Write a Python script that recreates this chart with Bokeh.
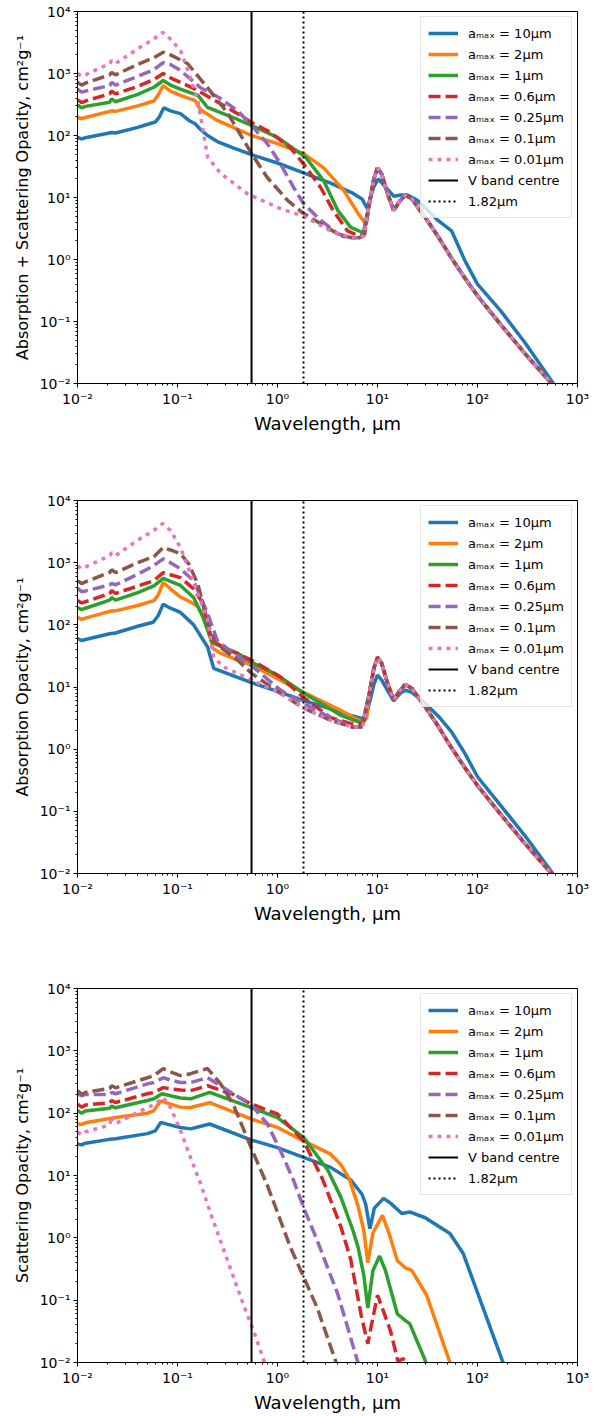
from bokeh.plotting import figure
from bokeh.layouts import column
from bokeh.models import Range1d, FixedTicker, CustomJSTickFormatter, Legend, LegendItem
from bokeh.embed import file_html
from bokeh.resources import INLINE

# ---------------- data (wavelength in micron, opacity in cm^2/g) ----------------
series_labels = ["aₘₐₓ = 10μm", "aₘₐₓ = 2μm", "aₘₐₓ = 1μm", "aₘₐₓ = 0.6μm",
                 "aₘₐₓ = 0.25μm", "aₘₐₓ = 0.1μm", "aₘₐₓ = 0.01μm"]
v_band_centre = 0.55
marker_wavelength = 1.82
x_limits = [1e-2, 1e3]
y_limits = [1e-2, 1e4]
y_labels = ["Absorption + Scattering Opacity, cm²g⁻¹",
            "Absorption Opacity, cm²g⁻¹",
            "Scattering Opacity, cm²g⁻¹"]

# shared silicate feature + far-IR tail of the small-grain curves (panels 1 and 2)
feat_wl = [8.3, 9.2, 10.0, 11.0, 12.5, 14.5, 16.5, 19, 22, 30, 40, 55, 75, 100, 170, 300, 600]
feat_k = [8.0, 20, 30, 24, 12, 6.2, 8.5, 11, 9.5, 4.8, 2.4, 1.05, 0.5, 0.26, 0.09, 0.03, 0.0085]

# Panel 1: absorption + scattering
ext_wl_10 = [0.01, 0.011, 0.012, 0.022, 0.024, 0.04, 0.06, 0.066, 0.073, 0.085, 0.107, 0.13, 0.15, 0.17, 0.2,
             0.25, 0.36, 0.55, 1.0, 1.82, 3.4, 5.5, 7.0, 7.9, 9.2, 10.2, 11.5, 14.5, 17, 20, 25, 40, 55, 75, 100,
             170, 300, 600]
ext_k_10 = [93, 88, 92, 112, 110, 135, 165, 200, 280, 250, 225, 175, 155, 125, 100, 80, 63, 49, 36, 25, 17, 12,
            9.5, 6.7, 15, 20, 16, 10.5, 11, 11, 9, 4.3, 2.9, 0.95, 0.4, 0.15, 0.045, 0.009]
ext_wl_2 = [0.01, 0.011, 0.012, 0.022, 0.024, 0.04, 0.058, 0.064, 0.072, 0.085, 0.107, 0.15, 0.17, 0.25, 0.36,
            0.55, 1.0, 1.82, 2.9, 4.6, 6.4, 7.6]
ext_k_2 = [195, 188, 195, 250, 245, 300, 360, 450, 640, 520, 445, 365, 260, 175, 135, 100, 74, 51, 30, 13, 5.5, 3.8]
ext_wl_1 = [0.01, 0.011, 0.012, 0.021, 0.022, 0.024, 0.04, 0.058, 0.072, 0.085, 0.107, 0.16, 0.2, 0.36, 0.55,
            1.0, 1.9, 2.9, 4.0, 5.4, 7.2]
ext_k_1 = [310, 280, 295, 345, 390, 350, 460, 600, 770, 650, 560, 443, 283, 195, 145, 93, 45, 18.6, 6.2, 3.3, 2.7]
ext_wl_06 = [0.01, 0.011, 0.012, 0.021, 0.022, 0.024, 0.04, 0.058, 0.072, 0.085, 0.107, 0.15, 0.21, 0.4, 0.55,
             0.85, 1.35, 1.82, 2.7, 3.6, 5.0, 6.3, 7.4]
ext_k_06 = [380, 340, 360, 470, 520, 470, 620, 800, 1000, 850, 720, 560, 410, 225, 162, 112, 63, 35, 14.5, 6.2,
            2.9, 2.45, 2.5]
ext_wl_025 = [0.01, 0.011, 0.012, 0.021, 0.022, 0.024, 0.04, 0.058, 0.072, 0.085, 0.107, 0.17, 0.27, 0.4, 0.55,
              0.79, 1.07, 1.45, 1.82, 2.7, 4.0, 5.7, 7.2]
ext_k_025 = [560, 500, 520, 640, 720, 650, 900, 1150, 1500, 1400, 1120, 590, 395, 250, 145, 74, 35, 14.5, 8, 4.3,
             2.6, 2.2, 2.3]
ext_wl_01 = [0.01, 0.011, 0.012, 0.021, 0.022, 0.024, 0.04, 0.058, 0.072, 0.085, 0.126, 0.2, 0.32, 0.55, 0.79,
             1.26, 1.82, 2.7, 4.3, 6.4, 7.3]
ext_k_01 = [720, 650, 700, 950, 1040, 950, 1400, 1800, 2200, 2000, 1450, 590, 225, 51, 21, 9, 5.5, 3.8, 2.4, 2.2, 2.4]
ext_wl_001 = [0.01, 0.011, 0.012, 0.021, 0.022, 0.024, 0.04, 0.058, 0.071, 0.085, 0.107, 0.125, 0.16, 0.2, 0.27,
              0.5, 1.07, 1.82, 3.4, 5.7, 7.3]
ext_k_001 = [1000, 900, 950, 1450, 1620, 1450, 2500, 3600, 4600, 3600, 2350, 1200, 365, 45, 24.5, 11.5, 6.6, 5,
             2.9, 2.2, 2.4]

# Panel 2: absorption
abs_wl_10 = [0.01, 0.011, 0.012, 0.021, 0.024, 0.04, 0.057, 0.064, 0.072, 0.085, 0.107, 0.13, 0.145, 0.2, 0.23,
             0.55, 1.82, 5.4, 7.1, 7.9, 9.2, 10.0, 11.0, 12.5, 14.5, 17, 19, 22, 30, 42, 55, 75, 100, 170, 300, 600]
abs_k_10 = [60, 56, 58, 72, 74, 95, 110, 140, 215, 185, 158, 118, 100, 44, 20, 11.8, 6.1, 3.5, 3.1, 4.0, 11, 15.5,
            13, 9, 6, 8, 8.9, 8.2, 5.5, 3.2, 1.9, 0.85, 0.36, 0.125, 0.04, 0.0088]
abs_wl_2 = [0.01, 0.011, 0.012, 0.021, 0.024, 0.04, 0.058, 0.064, 0.072, 0.085, 0.107, 0.145, 0.16, 0.2, 0.225,
            0.27, 0.36, 0.55, 1.82, 4.3, 7.1, 7.8]
abs_k_2 = [132, 122, 128, 165, 168, 205, 245, 300, 480, 380, 280, 220, 195, 105, 42, 35, 29, 22.6, 8.2, 4.2, 2.7, 3.2]
abs_wl_1 = [0.01, 0.011, 0.012, 0.021, 0.022, 0.024, 0.04, 0.058, 0.072, 0.085, 0.107, 0.145, 0.18, 0.22, 0.27,
            0.4, 0.55, 1.0, 1.82, 4.3, 7.1]
abs_k_1 = [190, 175, 185, 250, 275, 250, 330, 425, 560, 500, 430, 275, 132, 53, 45, 35, 25, 15.5, 8, 3.5, 2.6]
abs_wl_06 = [0.01, 0.011, 0.012, 0.021, 0.022, 0.024, 0.04, 0.058, 0.072, 0.085, 0.107, 0.145, 0.18, 0.22, 0.3,
             0.55, 1.07, 1.82, 3.4, 5.4, 7.1]
abs_k_06 = [245, 225, 235, 320, 355, 320, 420, 515, 690, 640, 575, 380, 220, 56, 42, 27, 14.5, 6.8, 3.2, 2.6, 2.5]
abs_wl_025 = [0.01, 0.011, 0.012, 0.021, 0.022, 0.024, 0.04, 0.058, 0.072, 0.085, 0.107, 0.145, 0.2, 0.25, 0.36,
              0.55, 1.07, 1.82, 3.4, 5.7, 7.1]
abs_k_025 = [390, 340, 350, 440, 465, 440, 650, 900, 1150, 1000, 800, 510, 152, 56, 35, 22, 8.9, 5.5, 3.2, 2.25, 2.3]
abs_wl_01 = [0.01, 0.011, 0.012, 0.021, 0.022, 0.024, 0.04, 0.058, 0.072, 0.085, 0.107, 0.13, 0.16, 0.2, 0.24,
             0.4, 0.55, 1.07, 1.82, 3.4, 5.7, 7.1]
abs_k_01 = [515, 460, 490, 700, 770, 690, 1000, 1250, 1750, 1600, 1400, 950, 450, 105, 50, 27, 16.6, 7.9, 4.6,
            2.9, 2.25, 2.3]
abs_wl_001 = [0.01, 0.011, 0.012, 0.021, 0.022, 0.024, 0.04, 0.058, 0.071, 0.085, 0.107, 0.135, 0.16, 0.2, 0.23,
              0.29, 0.55, 1.07, 1.82, 3.4, 5.7, 7.1]
abs_k_001 = [890, 800, 850, 1300, 1450, 1300, 2300, 3300, 4250, 3300, 1750, 665, 315, 118, 30, 21, 13, 7.9, 4.6,
             2.9, 2.25, 2.3]

# Panel 3: scattering
sca_wl_10 = [0.01, 0.011, 0.012, 0.021, 0.024, 0.05, 0.06, 0.068, 0.08, 0.107, 0.135, 0.21, 0.55, 1.0, 1.82, 3.4,
             5.4, 7.0, 7.6, 8.4, 9.3, 11.5, 13.5, 17.5, 21, 30, 53, 72, 112, 182, 200]
sca_k_10 = [32, 31, 33, 38, 39, 47, 52, 71, 66, 59, 56, 67, 37, 28, 19.5, 13.5, 8.5, 5.0, 3.5, 1.4, 3.0, 4.3, 3.6,
            2.45, 2.6, 2.1, 1.17, 0.56, 0.08, 0.0095, 0.006]
sca_wl_2 = [0.01, 0.011, 0.012, 0.021, 0.024, 0.05, 0.058, 0.068, 0.085, 0.107, 0.135, 0.21, 0.55, 1.0, 1.82, 3.4,
            4.3, 5.2, 6.4, 7.3, 8.0, 9.0, 11.2, 13.0, 15.8, 19, 22, 31, 53, 60]
sca_k_2 = [68, 66, 70, 82, 85, 100, 110, 158, 140, 125, 123, 147, 80, 59, 36, 22, 15, 9, 3.2, 1.3, 0.4, 1.2, 2.3,
           1.2, 0.43, 0.33, 0.3, 0.12, 0.01, 0.006]
sca_wl_1 = [0.01, 0.011, 0.012, 0.021, 0.022, 0.024, 0.05, 0.058, 0.07, 0.085, 0.107, 0.135, 0.21, 0.55, 1.0,
            1.82, 3.2, 4.3, 5.7, 6.4, 7.3, 8.0, 9.0, 10.5, 12, 15.8, 19, 21, 31, 35]
sca_k_1 = [110, 100, 108, 120, 130, 122, 160, 170, 205, 190, 175, 170, 215, 123, 85, 41, 12, 4.5, 1.3, 0.7, 0.25,
           0.075, 0.3, 0.51, 0.3, 0.06, 0.047, 0.042, 0.0095, 0.006]
sca_wl_06 = [0.01, 0.011, 0.012, 0.021, 0.022, 0.024, 0.05, 0.058, 0.072, 0.085, 0.107, 0.135, 0.2, 0.36, 0.55,
             1.0, 1.82, 2.8, 4.3, 5.4, 6.9, 8.0, 8.7, 10, 11, 13.5, 16, 18, 20, 23]
sca_k_06 = [140, 125, 135, 147, 160, 148, 205, 215, 257, 245, 235, 230, 275, 200, 140, 97, 36, 9, 1.5, 0.45, 0.055,
            0.02, 0.04, 0.12, 0.08, 0.032, 0.0105, 0.0115, 0.0105, 0.006]
sca_wl_025 = [0.01, 0.011, 0.012, 0.021, 0.022, 0.024, 0.05, 0.058, 0.072, 0.085, 0.107, 0.135, 0.2, 0.36, 0.55,
              0.79, 1.07, 1.45, 1.82, 2.5, 4.0, 6.4, 7.0]
sca_k_025 = [205, 190, 200, 200, 215, 205, 295, 310, 370, 340, 310, 310, 370, 205, 135, 68, 25, 8.3, 3.1, 0.9,
             0.126, 0.0098, 0.006]
sca_wl_01 = [0.01, 0.011, 0.012, 0.021, 0.022, 0.024, 0.05, 0.058, 0.072, 0.085, 0.107, 0.135, 0.2, 0.27, 0.36,
             0.55, 0.79, 1.07, 1.35, 2.5, 3.9, 4.3]
sca_k_01 = [230, 200, 215, 250, 275, 255, 370, 400, 520, 460, 400, 430, 520, 295, 140, 27, 7, 1.9, 0.7, 0.075,
            0.0095, 0.006]
sca_wl_001 = [0.01, 0.011, 0.012, 0.021, 0.022, 0.024, 0.05, 0.058, 0.072, 0.085, 0.107, 0.135, 0.17, 0.22, 0.3,
              0.45, 0.6, 0.74, 0.8]
sca_k_001 = [50, 45, 50, 65, 90, 68, 123, 135, 178, 123, 53, 19.5, 7.4, 2.2, 0.55, 0.09, 0.027, 0.01, 0.007]

# ---------------- styling ----------------
colors = ["#1f77b4", "#ff7f0e", "#2ca02c", "#d62728", "#9467bd", "#8c564b", "#e377c2"]
dashes = ["solid", "solid", "solid", "12 5", "12 5", "12 5", "4 5"]
FONT = "DejaVu Sans"

panel1 = [(ext_wl_10, ext_k_10), (ext_wl_2 + feat_wl, ext_k_2 + feat_k), (ext_wl_1 + feat_wl, ext_k_1 + feat_k),
          (ext_wl_06 + feat_wl, ext_k_06 + feat_k), (ext_wl_025 + feat_wl, ext_k_025 + feat_k),
          (ext_wl_01 + feat_wl, ext_k_01 + feat_k), (ext_wl_001 + feat_wl, ext_k_001 + feat_k)]
panel2 = [(abs_wl_10, abs_k_10), (abs_wl_2 + feat_wl, abs_k_2 + feat_k), (abs_wl_1 + feat_wl, abs_k_1 + feat_k),
          (abs_wl_06 + feat_wl, abs_k_06 + feat_k), (abs_wl_025 + feat_wl, abs_k_025 + feat_k),
          (abs_wl_01 + feat_wl, abs_k_01 + feat_k), (abs_wl_001 + feat_wl, abs_k_001 + feat_k)]
panel3 = [(sca_wl_10, sca_k_10), (sca_wl_2, sca_k_2), (sca_wl_1, sca_k_1), (sca_wl_06, sca_k_06),
          (sca_wl_025, sca_k_025), (sca_wl_01, sca_k_01), (sca_wl_001, sca_k_001)]

sup_js = """
const sup = {"-": "\\u207b", "0": "\\u2070", "1": "\\u00b9", "2": "\\u00b2", "3": "\\u00b3",
             "4": "\\u2074", "5": "\\u2075", "6": "\\u2076", "7": "\\u2077", "8": "\\u2078", "9": "\\u2079"};
const e = Math.round(Math.log10(tick));
return "10" + String(e).split("").map(c => sup[c]).join("");
"""


def decade_ticks(lo, hi):
    majors = [10.0 ** e for e in range(lo, hi + 1)]
    minors = [m * 10.0 ** e for e in range(lo, hi) for m in range(2, 10)]
    return FixedTicker(ticks=majors, minor_ticks=minors)


def make_panel(series, ylabel, height, top, bottom):
    p = figure(width=593, height=height, x_axis_type="log", y_axis_type="log",
               x_range=Range1d(*x_limits), y_range=Range1d(*y_limits),
               output_backend="svg", toolbar_location=None,
               min_border_left=77, min_border_right=16, min_border_top=top, min_border_bottom=bottom)
    p.xgrid.visible = False
    p.ygrid.visible = False
    p.outline_line_color = "black"
    p.outline_line_width = 1
    p.background_fill_color = "white"
    p.border_fill_color = "white"

    items = []
    for (wl, k), c, d, lab in zip(series, colors, dashes, series_labels):
        r = p.line(wl, k, line_color=c, line_width=3.5, line_dash=d)
        items.append(LegendItem(label=lab, renderers=[r]))
    rv = p.line([v_band_centre, v_band_centre], y_limits, line_color="black", line_width=2)
    items.append(LegendItem(label="V band centre", renderers=[rv]))
    rm = p.line([marker_wavelength, marker_wavelength], y_limits, line_color="black", line_width=2,
                line_dash="2 3")
    items.append(LegendItem(label="1.82μm", renderers=[rm]))

    p.xaxis.ticker = decade_ticks(-2, 3)
    p.yaxis.ticker = decade_ticks(-2, 4)
    for ax in (p.xaxis[0], p.yaxis[0]):
        ax.formatter = CustomJSTickFormatter(code=sup_js)
        ax.major_label_text_font = FONT
        ax.major_label_text_font_size = "14px"
        ax.major_label_text_color = "black"
        ax.axis_label_text_font = FONT
        ax.axis_label_text_font_style = "normal"
        ax.axis_label_text_color = "black"
        ax.axis_line_color = "black"
        ax.major_tick_line_color = "black"
        ax.minor_tick_line_color = "black"
        ax.major_tick_out = 4
        ax.major_tick_in = 0
        ax.minor_tick_out = 2
        ax.minor_tick_in = 0
        ax.major_label_standoff = 3
    p.xaxis.axis_label = "Wavelength, μm"
    p.xaxis.axis_label_text_font_size = "18px"
    p.xaxis.axis_label_standoff = 3
    p.yaxis.axis_label = ylabel
    p.yaxis.axis_label_text_font_size = "16px"
    p.yaxis.axis_label_standoff = 5

    leg = Legend(items=items, location="top_right")
    leg.label_text_font = FONT
    leg.label_text_font_size = "13px"
    leg.label_text_color = "black"
    leg.glyph_width = 30
    leg.glyph_height = 18
    leg.label_height = 18
    leg.label_standoff = 10
    leg.spacing = 3
    leg.padding = 7
    leg.margin = 5
    leg.border_line_color = "#cccccc"
    leg.border_line_width = 1
    leg.background_fill_color = "white"
    leg.background_fill_alpha = 0.8
    p.add_layout(leg)
    return p


p1 = make_panel(panel1, y_labels[0], 489, 11, 106)
p2 = make_panel(panel2, y_labels[1], 489, 11, 105)
p3 = make_panel(panel3, y_labels[2], 438, 10, 54)

layout = column(p1, p2, p3, spacing=0)
open("out.html", "w").write(file_html(layout, INLINE))
